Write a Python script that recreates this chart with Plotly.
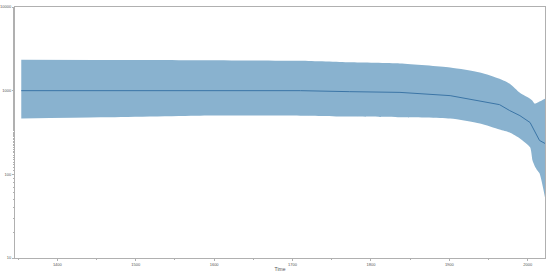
import plotly.graph_objects as go

# values (log scale y)
years = [1354, 1455, 1582, 1710, 1773, 1837, 1901, 1939, 1964, 1977, 1990, 2003, 2006, 2009, 2012, 2015, 2022]
mean = [1000, 1000, 1000, 1000, 973, 954, 872, 760, 681, 578, 503, 416, 370, 316, 285, 254, 234]
upper = [2339, 2330, 2317, 2276, 2183, 2113, 1893, 1651, 1389, 1211, 946, 803, 760, 700, 715, 740, 803]
lower = [464, 480, 503, 503, 490, 481, 464, 405, 343, 316, 268, 210, 147, 125, 112, 103, 53]

y_ticks = [10, 100, 1000, 10000]
x_ticks = [1400, 1500, 1600, 1700, 1800, 1900, 2000]

band_color = "#89b2cf"
line_color = "#3b75a6"
axis_color = "#b0b0b0"

fig = go.Figure()
fig.add_trace(go.Scatter(x=years, y=upper, mode="lines", line=dict(width=0, shape="spline", smoothing=0.6),
                         hoverinfo="skip", showlegend=False))
fig.add_trace(go.Scatter(x=years, y=lower, mode="lines", line=dict(width=0, shape="spline", smoothing=0.6),
                         fill="tonexty", fillcolor=band_color,
                         hoverinfo="skip", showlegend=False))
fig.add_trace(go.Scatter(x=years, y=mean, mode="lines",
                         line=dict(color=line_color, width=1), showlegend=False))

fig.update_layout(
    width=550, height=273,
    margin=dict(l=15, r=5, t=7, b=15, autoexpand=False),
    paper_bgcolor="white", plot_bgcolor="white",
    font=dict(family="Liberation Sans", size=5, color="#555"),
)
fig.update_xaxes(
    range=[1346, 2022], tickvals=x_ticks, ticktext=[str(v) for v in x_ticks],
    ticks="outside", ticklen=2,
    tickcolor=axis_color, showgrid=False, zeroline=False, automargin=False,
    showline=True, mirror=True, linecolor=axis_color, linewidth=1,
    minor=dict(ticks="outside", ticklen=1, tickcolor=axis_color, dtick=50, showgrid=False),
    title=dict(text="Time", font=dict(size=5), standoff=1),
    tickfont=dict(size=4),
)
fig.update_yaxes(
    type="log", range=[1, 4], tickvals=y_ticks, ticktext=[str(v) for v in y_ticks],
    ticks="outside", ticklen=2, tickcolor=axis_color, showgrid=False, zeroline=False,
    automargin=False,
    showline=True, mirror=True, linecolor=axis_color, linewidth=1,
    minor=dict(ticks="outside", ticklen=1, tickcolor=axis_color, showgrid=False),
    tickfont=dict(size=4),
)

# drop the page's default body margin so the figure sits at the window corner
fig.write_html("out.html", config={"displayModeBar": False},
               post_script="document.body.style.margin='0px';")
